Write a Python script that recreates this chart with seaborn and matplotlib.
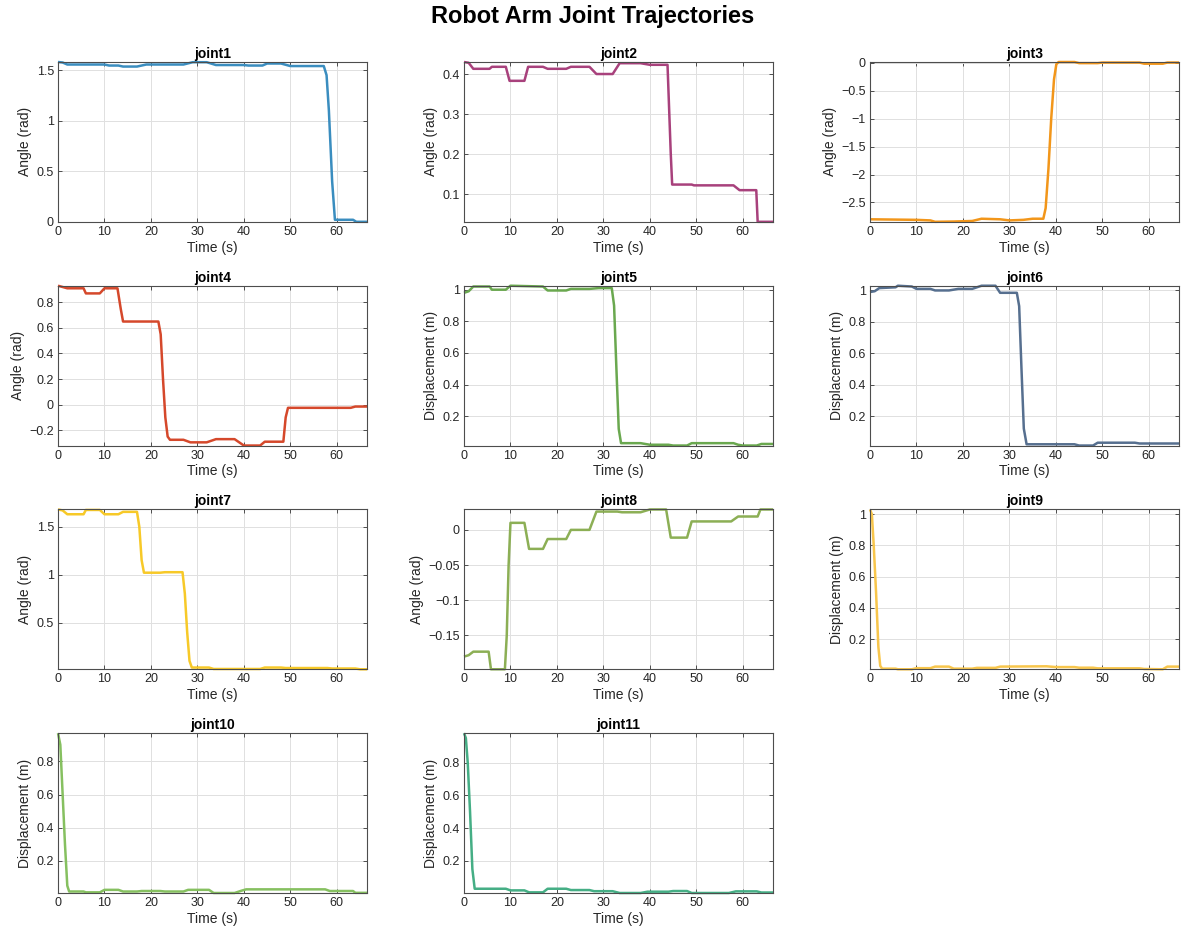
import numpy as np
import pandas as pd
import matplotlib
matplotlib.use("Agg")
import matplotlib.pyplot as plt
from matplotlib.ticker import MultipleLocator, FuncFormatter
import seaborn as sns

# ---------------- data (breakpoints) ----------------
joint_names = ["joint1", "joint2", "joint3", "joint4", "joint5", "joint6",
               "joint7", "joint8", "joint9", "joint10", "joint11"]
y_labels = ["Angle (rad)", "Angle (rad)", "Angle (rad)", "Angle (rad)",
            "Displacement (m)", "Displacement (m)", "Angle (rad)", "Angle (rad)",
            "Displacement (m)", "Displacement (m)", "Displacement (m)"]

j1_t = [0, 1, 2, 10, 11, 13, 14, 17, 19, 27, 29, 32, 34, 40, 41, 44, 45, 48, 50, 57.2, 57.8, 58.3, 59.0, 59.6, 63.5, 64.2, 66.5]
j1_v = [1.58, 1.575, 1.555, 1.555, 1.545, 1.545, 1.535, 1.535, 1.555, 1.555, 1.578, 1.578, 1.55, 1.55, 1.545, 1.545, 1.565, 1.565, 1.54, 1.54, 1.45, 1.1, 0.4, 0.02, 0.02, 0.0, 0.0]

j2_t = [0, 1, 2, 5.5, 6, 9, 9.8, 13, 13.8, 17, 18, 22, 23, 27, 28.5, 32, 33.5, 38, 40, 43.8, 44.5, 44.8, 49, 49.5, 58, 59.3, 62.9, 63.2, 66.5]
j2_v = [0.43, 0.428, 0.413, 0.413, 0.418, 0.418, 0.383, 0.383, 0.418, 0.418, 0.413, 0.413, 0.418, 0.418, 0.400, 0.400, 0.427, 0.427, 0.423, 0.423, 0.2, 0.124, 0.124, 0.122, 0.122, 0.11, 0.11, 0.031, 0.031]

j3_t = [0, 10, 13, 14, 18, 22, 24, 28, 30, 33, 35, 37.3, 37.8, 38.4, 39.0, 39.6, 40.1, 40.6, 44, 45, 49, 50, 58, 59, 63, 64, 66.5]
j3_v = [-2.80, -2.81, -2.82, -2.845, -2.84, -2.83, -2.79, -2.80, -2.82, -2.81, -2.79, -2.79, -2.6, -1.9, -1.0, -0.3, -0.03, 0.01, 0.01, -0.01, -0.01, 0.0, 0.0, -0.02, -0.02, 0.0, 0.0]

j4_t = [0, 2, 5.5, 6, 9, 10, 12.8, 13.5, 14, 21.6, 22.1, 22.6, 23.1, 23.6, 24.1, 27, 28.5, 32, 34, 38, 40, 43.5, 44.5, 48.5, 49.0, 49.5, 63, 64, 66.5]
j4_v = [0.93, 0.91, 0.91, 0.87, 0.87, 0.91, 0.91, 0.75, 0.65, 0.65, 0.55, 0.2, -0.1, -0.25, -0.275, -0.275, -0.295, -0.295, -0.27, -0.27, -0.32, -0.32, -0.29, -0.29, -0.1, -0.025, -0.025, -0.015, -0.015]

j5_t = [0, 1, 2, 5.5, 6, 9, 10, 17, 18, 22, 23, 27, 29, 31.8, 32.3, 32.8, 33.3, 33.8, 38, 40, 44, 45, 48, 49, 58, 59, 60, 63, 64, 66.5]
j5_v = [0.98, 0.99, 1.02, 1.02, 1.0, 1.0, 1.025, 1.02, 0.995, 0.995, 1.005, 1.005, 1.01, 1.01, 0.9, 0.5, 0.12, 0.03, 0.03, 0.02, 0.02, 0.015, 0.015, 0.03, 0.03, 0.02, 0.015, 0.015, 0.025, 0.025]

j6_t = [0, 1, 2, 5.5, 6, 9, 10, 13, 14, 17, 19, 22, 24, 27, 28, 31.6, 32.1, 32.6, 33.1, 33.7, 38, 44, 45, 48, 49, 57, 58, 66.5]
j6_v = [0.99, 0.995, 1.015, 1.02, 1.03, 1.025, 1.01, 1.01, 1.0, 1.0, 1.01, 1.01, 1.03, 1.03, 0.985, 0.985, 0.9, 0.5, 0.12, 0.02, 0.02, 0.02, 0.012, 0.012, 0.03, 0.03, 0.025, 0.025]

j7_t = [0, 1, 2, 5.5, 6, 9, 10, 13, 14, 17, 17.5, 18, 18.5, 22, 23, 26.8, 27.3, 27.8, 28.3, 28.8, 32.5, 33.5, 43.5, 44.5, 48, 49, 58, 59, 64, 65, 66.5]
j7_v = [1.68, 1.67, 1.63, 1.63, 1.675, 1.675, 1.63, 1.63, 1.655, 1.655, 1.5, 1.15, 1.02, 1.02, 1.025, 1.025, 0.8, 0.4, 0.1, 0.03, 0.03, 0.015, 0.015, 0.03, 0.03, 0.025, 0.025, 0.02, 0.02, 0.012, 0.012]

j8_t = [0, 1, 2, 5.3, 5.8, 8.8, 9.2, 9.6, 10, 13, 14, 17, 18, 22, 23, 27, 28.5, 33, 34, 38, 40, 43.5, 44.5, 48, 49, 57.5, 59, 63.2, 63.8, 66.5]
j8_v = [-0.18, -0.178, -0.173, -0.173, -0.198, -0.198, -0.15, -0.05, 0.01, 0.01, -0.027, -0.027, -0.013, -0.013, 0.0, 0.0, 0.026, 0.026, 0.025, 0.025, 0.029, 0.029, -0.011, -0.011, 0.012, 0.012, 0.019, 0.019, 0.029, 0.029]

j9_t = [0, 0.4, 0.8, 1.3, 1.8, 2.2, 2.6, 5.5, 6, 9, 10, 13, 14, 17, 18, 22, 23, 27, 28, 38, 40, 44, 45, 48, 49, 58, 59, 63, 64, 66.5]
j9_v = [1.03, 1.0, 0.8, 0.5, 0.15, 0.03, 0.012, 0.012, 0.008, 0.008, 0.015, 0.015, 0.025, 0.025, 0.012, 0.012, 0.017, 0.017, 0.025, 0.027, 0.022, 0.022, 0.018, 0.018, 0.014, 0.014, 0.01, 0.008, 0.025, 0.025]

j10_t = [0, 0.5, 1.0, 1.5, 2.0, 2.4, 5.5, 6, 9, 10, 13, 14, 17, 18, 22, 23, 27, 28, 32.5, 33.5, 38, 39.5, 40.5, 57.5, 58.5, 63.5, 64, 66.5]
j10_v = [0.97, 0.9, 0.6, 0.3, 0.05, 0.015, 0.015, 0.01, 0.01, 0.025, 0.025, 0.015, 0.015, 0.018, 0.018, 0.015, 0.015, 0.025, 0.025, 0.006, 0.006, 0.02, 0.028, 0.028, 0.018, 0.018, 0.007, 0.007]

j11_t = [0, 0.4, 0.8, 1.3, 1.8, 2.3, 9, 10, 13, 14, 17, 18, 22, 23, 27, 28, 32, 33.5, 38, 39.5, 44, 45, 48, 49, 57, 58.5, 63, 64, 66.5]
j11_v = [0.98, 0.95, 0.8, 0.5, 0.15, 0.03, 0.03, 0.02, 0.02, 0.008, 0.008, 0.03, 0.03, 0.022, 0.022, 0.015, 0.015, 0.004, 0.004, 0.012, 0.012, 0.016, 0.016, 0.004, 0.004, 0.014, 0.014, 0.007, 0.007]

times = [j1_t, j2_t, j3_t, j4_t, j5_t, j6_t, j7_t, j8_t, j9_t, j10_t, j11_t]
values = [j1_v, j2_v, j3_v, j4_v, j5_v, j6_v, j7_v, j8_v, j9_v, j10_v, j11_v]

colors = ["#3A8DBF", "#A8417C", "#F2961A", "#D5482B", "#6AA84F", "#566F8F",
          "#F7C928", "#8CAF55", "#F8C64C", "#86C060", "#45AE85"]
ytick_steps = [0.5, 0.1, 0.5, 0.2, 0.2, 0.2, 0.5, 0.05, 0.2, 0.2, 0.2]
xtick_step = 10

# ---------------- figure ----------------
sns.set_theme(style="white")
plt.rcParams["font.family"] = ["Liberation Sans", "DejaVu Sans"]
plt.rcParams["axes.unicode_minus"] = True

fig, axes = plt.subplots(4, 3, figsize=(11.86, 9.4), dpi=100)
fig.subplots_adjust(left=58 / 1186, right=1179 / 1186, top=1 - 62 / 940,
                    bottom=1 - 893 / 940, wspace=0.314, hspace=0.40)

fmt = FuncFormatter(lambda v, p: ("%g" % round(v, 6)).replace("-", "\u2212"))
axcol = "#262626"

for i, ax in enumerate(axes.flat):
    if i >= len(joint_names):
        ax.set_visible(False)
        continue
    df = pd.DataFrame({"Time (s)": times[i], "value": values[i]})
    sns.lineplot(data=df, x="Time (s)", y="value", ax=ax, color=colors[i],
                 linewidth=1.8, estimator=None, sort=False)
    for ln in ax.lines:
        ln.set_clip_on(False)
        ln.set_solid_joinstyle("round")
        ln.set_solid_capstyle("butt")
    ax.set_xlim(min(times[i]), max(times[i]))
    ax.set_ylim(min(values[i]), max(values[i]))
    ax.xaxis.set_major_locator(MultipleLocator(xtick_step))
    ax.yaxis.set_major_locator(MultipleLocator(ytick_steps[i]))
    ax.xaxis.set_major_formatter(fmt)
    ax.yaxis.set_major_formatter(fmt)
    ax.grid(True, color="#e0e0e0", linewidth=0.7)
    ax.set_axisbelow(True)
    for sp in ax.spines.values():
        sp.set_color("#4d4d4d")
        sp.set_linewidth(0.8)
    ax.tick_params(direction="in", length=3, width=0.7, colors="#4d4d4d",
                   labelcolor=axcol, labelsize=9, top=True, right=True,
                   bottom=True, left=True, pad=3)
    ax.set_title(joint_names[i], fontsize=10, fontweight="bold", color="black", pad=3)
    ax.set_xlabel("Time (s)", fontsize=10, color=axcol, labelpad=2)
    ax.set_ylabel(y_labels[i], fontsize=10, color=axcol, labelpad=3)

fig.suptitle("Robot Arm Joint Trajectories", fontsize=17, fontweight="bold",
             color="black", y=1 - 16 / 940, va="center")

fig.savefig("out.png", dpi=100)
